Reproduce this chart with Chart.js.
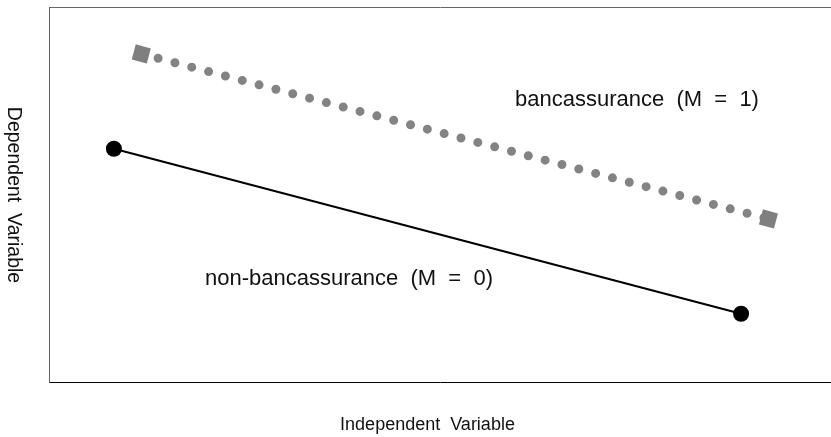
<!DOCTYPE html>
<html>
<head>
<meta charset="utf-8">
<script src="https://cdn.jsdelivr.net/npm/chart.js@4"></script>
<style>
html,body{margin:0;padding:0;background:#fff;overflow:hidden;}
#wrap{width:831px;height:437px;position:relative;overflow:hidden;}
</style>
</head>
<body>
<div id="wrap"><canvas id="c" width="831" height="437"></canvas></div>
<script>
// Data
const seriesNames = ["non-bancassurance  (M  =  0)", "bancassurance  (M  =  1)"];
const nonBancX = [0.83, 8.85];
const nonBancY = [6.22, 1.82];
const bancX = [1.18, 9.2];
const bancY = [8.75, 4.35];
const xTitle = "Independent  Variable";
const yTitle = "Dependent  Variable";
const xRange = [0, 10];
const yRange = [0, 10];

const toPts = (xs, ys) => xs.map((x, i) => ({x: x, y: ys[i]}));

const FONT = '"Liberation Sans", Arial, sans-serif';

const textPlugin = {
  id: 'textPlugin',
  afterDraw(chart) {
    const ctx = chart.ctx;
    ctx.save();
    ctx.fillStyle = '#111';
    // in-plot labels
    ctx.font = '22px ' + FONT;
    ctx.textAlign = 'left';
    ctx.textBaseline = 'alphabetic';
    ctx.fillText(seriesNames[1], 515, 106);
    ctx.fillText(seriesNames[0], 205, 285);
    // axis titles
    ctx.font = '18px ' + FONT;
    ctx.textAlign = 'center';
    ctx.fillText(xTitle, 427.5, 430);
    ctx.font = '19.5px ' + FONT;
    ctx.translate(13.5, 195);
    ctx.rotate(Math.PI / 2);
    ctx.textBaseline = 'middle';
    ctx.fillText(yTitle, 0, 0);
    ctx.restore();
  }
};

const hiddenAxis = (pos, color, range) => ({
  type: 'linear',
  position: pos,
  min: range[0],
  max: range[1],
  display: true,
  ticks: {display: false},
  grid: {display: false, drawTicks: false},
  border: {display: true, color: color, width: 1},
  title: {display: false}
});

const chart = new Chart(document.getElementById('c'), {
  type: 'scatter',
  data: {
    datasets: [
      {
        label: seriesNames[0],
        data: toPts(nonBancX, nonBancY),
        showLine: true,
        borderColor: '#000',
        borderWidth: 2,
        pointRadius: 8,
        pointHoverRadius: 8,
        pointBackgroundColor: '#000',
        pointBorderWidth: 0,
        pointStyle: 'circle'
      },
      {
        label: seriesNames[1],
        data: toPts(bancX, bancY),
        showLine: true,
        borderColor: '#838383',
        borderWidth: 9,
        borderDash: [0, 17.4],
        borderCapStyle: 'round',
        pointRadius: 11,
        pointHoverRadius: 11,
        pointStyle: 'rect',
        pointRotation: 15,
        pointBackgroundColor: '#7f7f7f',
        pointBorderWidth: 0
      }
    ]
  },
  options: {
    responsive: false,
    animation: false,
    events: [],
    layout: {autoPadding: false, padding: {left: 49, top: 7, right: 0, bottom: 55}},
    plugins: {legend: {display: false}, tooltip: {enabled: false}},
    scales: {
      x: hiddenAxis('bottom', '#000', xRange),
      x2: hiddenAxis('top', '#666', xRange),
      y: hiddenAxis('left', '#666', yRange)
    }
  },
  plugins: [textPlugin]
});
</script>
</body>
</html>
